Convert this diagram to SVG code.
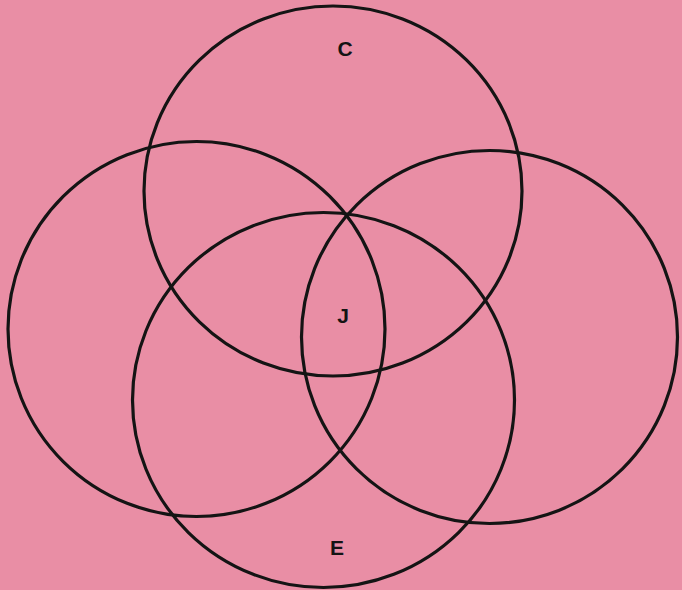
<svg xmlns="http://www.w3.org/2000/svg" width="682" height="590" viewBox="0 0 682 590">
<style>
.c{fill:none;stroke:#141414;stroke-width:3.2}
.t{font-family:"Liberation Sans",Arial,sans-serif;font-weight:bold;font-size:21px;fill:#141414;text-anchor:middle}
</style>
<rect width="682" height="590" fill="#e98ea5"/>
<g id="connectors"></g>
<g id="circle-top"><ellipse class="c" cx="333" cy="191" rx="189" ry="185"/></g>
<g id="circle-left"><ellipse class="c" cx="196.5" cy="329" rx="188.5" ry="187.5"/></g>
<g id="circle-right"><ellipse class="c" cx="489.5" cy="337" rx="188" ry="186.5"/></g>
<g id="circle-bottom"><ellipse class="c" cx="323.5" cy="400" rx="191" ry="187.5"/></g>
<g id="label-C"><text class="t" x="345" y="56">C</text></g>
<g id="label-J"><text class="t" x="343" y="323">J</text></g>
<g id="label-E"><text class="t" x="337" y="555">E</text></g>
</svg>
